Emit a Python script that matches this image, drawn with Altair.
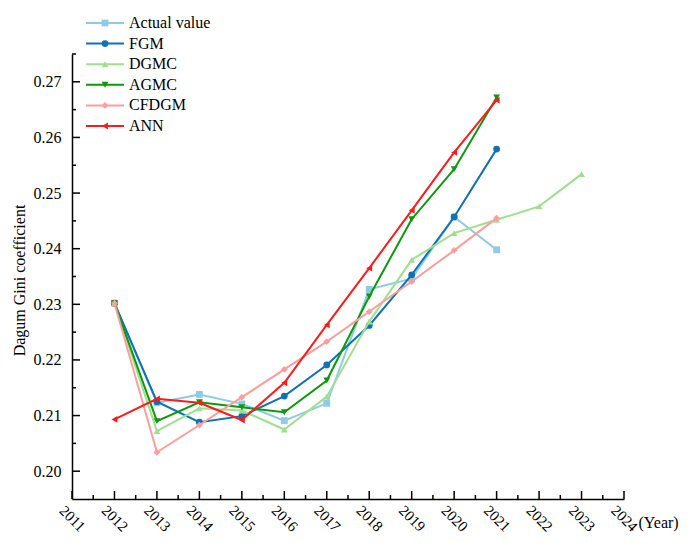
import altair as alt
import pandas as pd

# ---------------- data ----------------
series_names = ["Actual value", "FGM", "DGMC", "AGMC", "CFDGM", "ANN"]
years = [2012, 2013, 2014, 2015, 2016, 2017, 2018, 2019, 2020, 2021]
dgmc_years = [2012, 2013, 2014, 2015, 2016, 2017, 2018, 2019, 2020, 2021, 2022, 2023]

actual = [0.2302, 0.2123, 0.2138, 0.2121, 0.2091, 0.2122, 0.2327, 0.2346, 0.2457, 0.2398]
fgm = [0.2302, 0.2125, 0.2088, 0.2099, 0.2135, 0.2191, 0.2262, 0.2353, 0.2457, 0.2579]
dgmc = [0.2302, 0.2072, 0.2113, 0.2109, 0.2075, 0.2134, 0.2269, 0.2380, 0.2428, 0.2452, 0.2476, 0.2534]
agmc = [0.2302, 0.2090, 0.2124, 0.2115, 0.2106, 0.2163, 0.2314, 0.2453, 0.2543, 0.2672]
cfdgm = [0.2302, 0.2034, 0.2083, 0.2133, 0.2183, 0.2233, 0.2287, 0.2341, 0.2397, 0.2455]
ann = [0.2093, 0.2130, 0.2123, 0.2092, 0.2159, 0.2263, 0.2365, 0.2469, 0.2573, 0.2667]

x_ticks = [2011, 2012, 2013, 2014, 2015, 2016, 2017, 2018, 2019, 2020, 2021, 2022, 2023, 2024]
x_minor = [2011.5, 2012.5, 2013.5, 2014.5, 2015.5, 2016.5, 2017.5, 2018.5, 2019.5,
           2020.5, 2021.5, 2022.5, 2023.5]
y_ticks = [0.20, 0.21, 0.22, 0.23, 0.24, 0.25, 0.26, 0.27]
y_minor = [0.205, 0.215, 0.225, 0.235, 0.245, 0.255, 0.265, 0.275]

colors = ["#8ecbe6", "#0f72b4", "#9fe08e", "#0c9a0c", "#ff9c9c", "#ff1a1a"]
shapes = ["square", "circle", "triangle-up", "triangle-down", "diamond", "triangle-left"]

series_data = [
    ("Actual value", years, actual),
    ("FGM", years, fgm),
    ("DGMC", dgmc_years, dgmc),
    ("AGMC", years, agmc),
    ("CFDGM", years, cfdgm),
    ("ANN", years, ann),
]
rows = []
for name, yrs, vals in series_data:
    for yy, vv in zip(yrs, vals):
        rows.append({"series": name, "year": yy, "value": vv})
df = pd.DataFrame(rows)

FONT = "Liberation Serif"
W, H = 552, 445

color_scale = alt.Scale(domain=series_names, range=colors)
shape_scale = alt.Scale(domain=series_names, range=shapes)
x_scale = alt.Scale(domain=[2011, 2024], nice=False, zero=False)
y_scale = alt.Scale(domain=[0.195, 0.275], nice=False, zero=False)

x_axis = alt.Axis(values=x_ticks, format="d", labelAngle=45, labelAlign="center",
                  labelBaseline="middle", labelPadding=19, ticks=False, tickSize=0,
                  grid=False, domainColor="black", domainWidth=1.5,
                  labelFont=FONT, labelFontSize=15, labelColor="black",
                  labelFlush=False, labelOverlap=False, labelBound=False,
                  title="(Year)", titleX=566, titleY=23, titleAlign="left",
                  titleBaseline="middle", titleAngle=0, titleFont=FONT,
                  titleFontSize=16, titleFontWeight="normal", titleColor="black")
y_axis = alt.Axis(values=y_ticks, format=".2f", labelPadding=11, ticks=False, tickSize=0,
                  grid=False, domainColor="black", domainWidth=1.5,
                  labelFont=FONT, labelFontSize=16, labelColor="black",
                  labelFlush=False, labelOverlap=False,
                  title="Dagum Gini coefficient", titleX=-53, titleY=226,
                  titleAngle=-90, titleAlign="center", titleBaseline="middle",
                  titleFont=FONT, titleFontSize=16, titleFontWeight="normal",
                  titleColor="black")

X = alt.X("year:Q", scale=x_scale, axis=x_axis)
Y = alt.Y("value:Q", scale=y_scale, axis=y_axis)

layers = []
for name in series_names:
    base = alt.Chart(df).transform_filter(alt.datum.series == name)
    layers.append(base.mark_line(strokeWidth=2).encode(
        x=X, y=Y, color=alt.Color("series:N", scale=color_scale, legend=None)))
    layers.append(base.mark_point(filled=True, opacity=1, size=46).encode(
        x=X, y=Y,
        color=alt.Color("series:N", scale=color_scale, legend=None),
        shape=alt.Shape("series:N", scale=shape_scale, legend=None)))

# inward ticks
yt_major = alt.Chart(pd.DataFrame({"value": y_ticks})).mark_rule(color="black", strokeWidth=1.5).encode(
    y=Y, x=alt.value(0), x2=alt.value(8))
yt_minor = alt.Chart(pd.DataFrame({"value": y_minor})).mark_rule(color="black", strokeWidth=1.5).encode(
    y=Y, x=alt.value(0), x2=alt.value(4))
xt_major = alt.Chart(pd.DataFrame({"year": x_ticks})).mark_rule(color="black", strokeWidth=1.5).encode(
    x=X, y=alt.value(H), y2=alt.value(H - 8))
xt_minor = alt.Chart(pd.DataFrame({"year": x_minor})).mark_rule(color="black", strokeWidth=1.5).encode(
    x=X, y=alt.value(H), y2=alt.value(H - 4))

main = alt.layer(yt_major, yt_minor, xt_major, xt_minor, *layers)

# custom legend
leg_df = pd.DataFrame({"series": series_names})
LY = alt.Y("series:N", sort=series_names,
           scale=alt.Scale(type="point", domain=series_names, range=[-31, 72], padding=0),
           axis=None)
leg_line = alt.Chart(leg_df).mark_rule(strokeWidth=2).encode(
    y=LY, x=alt.value(14), x2=alt.value(52),
    color=alt.Color("series:N", scale=color_scale, legend=None))
leg_pt = alt.Chart(leg_df).mark_point(filled=True, opacity=1, size=46).encode(
    y=LY, x=alt.value(33),
    color=alt.Color("series:N", scale=color_scale, legend=None),
    shape=alt.Shape("series:N", scale=shape_scale, legend=None))
leg_txt = alt.Chart(leg_df).mark_text(align="left", baseline="middle", font=FONT,
                                      fontSize=16, color="black").encode(
    y=LY, x=alt.value(57), text="series:N")
legend = alt.layer(leg_line, leg_pt, leg_txt)

chart = alt.layer(main, legend).resolve_scale(y="independent").properties(
    width=W, height=H,
    autosize=alt.AutoSizeParams(type="none"),
    padding={"left": 64, "top": 46, "right": 57, "bottom": 36},
    background="white",
).configure_view(stroke=None)

chart.save("out.html", embed_options={"renderer": "svg", "actions": False})
